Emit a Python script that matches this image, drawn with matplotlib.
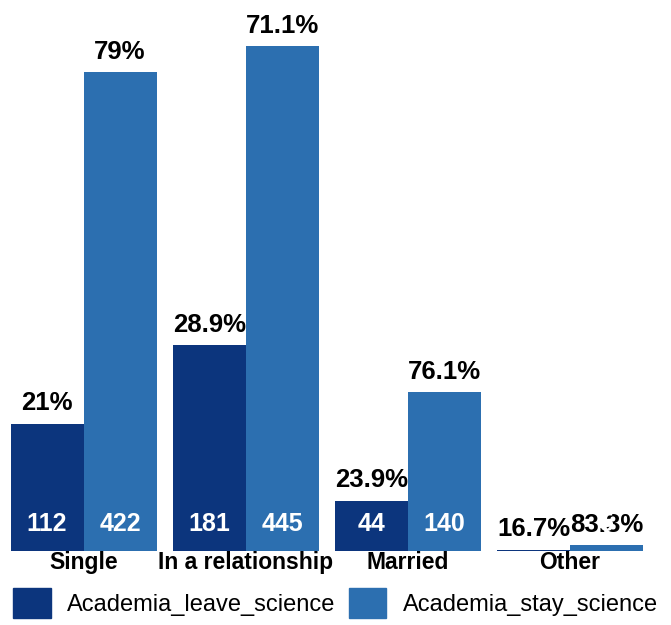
import numpy as np
import matplotlib.pyplot as plt
from matplotlib.patches import Patch

plt.rcParams['font.family'] = ['Liberation Sans', 'DejaVu Sans']

# データ
categories = ['Single', 'In a relationship', 'Married', 'Other']
leave_counts = [112, 181, 44, 1]
stay_counts = [422, 445, 140, 5]
leave_pct = ['21%', '28.9%', '23.9%', '16.7%']
stay_pct = ['79%', '71.1%', '76.1%', '83.3%']
series_names = ['Academia_leave_science', 'Academia_stay_science']

c_leave = '#0c357d'
c_stay = '#2c6fb0'

fig = plt.figure(figsize=(6.71, 6.25), dpi=100)
ax = fig.add_axes([10.6 / 671, 74.3 / 625, 632.4 / 671, 544.3 / 625])

x = np.arange(len(categories))
w = 0.45
b1 = ax.bar(x - w / 2, leave_counts, w, color=c_leave, linewidth=0)
b2 = ax.bar(x + w / 2, stay_counts, w, color=c_stay, linewidth=0)

# パーセント表示(棒の上)
for bars, labels in ((b1, leave_pct), (b2, stay_pct)):
    for r, lab in zip(bars, labels):
        ax.annotate(lab, (r.get_x() + r.get_width() / 2, r.get_height()),
                    xytext=(0, 6), textcoords='offset points',
                    ha='center', va='bottom', fontsize=18.5,
                    fontweight='bold', color='black', zorder=5)

# 件数(棒の下の方、白字) 1件の棒には出さない
for bars, vals in ((b1, leave_counts), (b2, stay_counts)):
    for r, v in zip(bars, vals):
        if v <= 1:
            continue
        ax.annotate(str(v), (r.get_x() + r.get_width() / 2, 0),
                    xytext=(0, 14), textcoords='offset points',
                    ha='center', va='baseline', fontsize=18,
                    fontweight='bold', color='white', zorder=6)

ax.set_xlim(-0.45, 3.45)
ax.set_ylim(0, 480)
ax.set_xticks(x)
ax.set_xticklabels(categories, fontsize=16.5, fontweight='bold')
ax.tick_params(axis='x', length=0, pad=0)
ax.set_yticks([])
for s in ax.spines.values():
    s.set_visible(False)

handles = [Patch(color=c_leave), Patch(color=c_stay)]
fig.legend(handles, series_names, loc='upper left',
           bbox_to_anchor=(13 / 671, 1 - 588 / 625), ncol=2, frameon=False,
           fontsize=17, handlelength=1.6, handleheight=1.6,
           handletextpad=0.68, columnspacing=0.57,
           borderpad=0, borderaxespad=0)

fig.savefig('out.png')
